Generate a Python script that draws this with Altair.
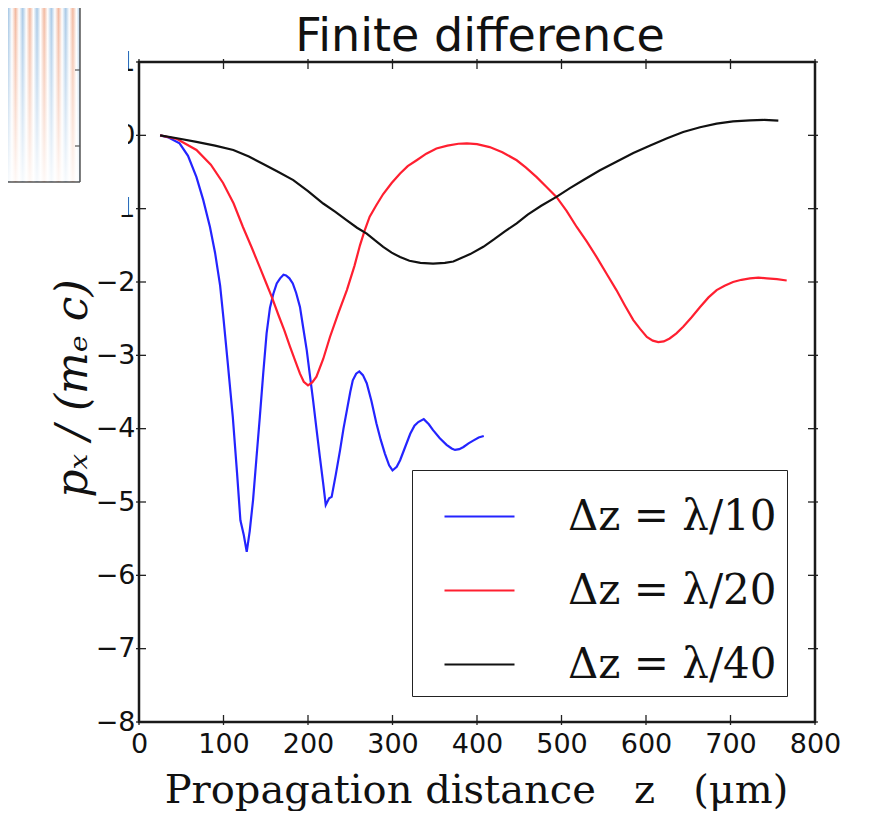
import altair as alt
import pandas as pd

# ---------------- data ----------------
blue_z = [25, 35, 48, 58, 68, 76, 84, 90, 96, 100, 105, 111, 116, 120, 124, 127.5, 131, 135, 139, 143,
          147, 151, 155, 159, 163, 167, 171, 174, 178, 182, 186, 190.5, 194, 198.5, 202, 206, 210, 214,
          218, 221, 225, 228, 233, 238, 242, 246, 250, 253, 257, 260.7, 265, 269.5, 275, 281, 286, 291,
          296, 300, 305, 309, 315, 321, 326, 330.5, 337, 343, 348, 356, 364, 370, 374, 379, 384, 390,
          396, 402, 408]
blue_v = [0, -0.03, -0.11, -0.28, -0.57, -0.88, -1.25, -1.6, -2.05, -2.5, -3.1, -3.84, -4.6, -5.25,
          -5.45, -5.68, -5.4, -4.97, -4.4, -3.84, -3.25, -2.70, -2.35, -2.16, -2.02, -1.95, -1.9, -1.91,
          -1.95, -2.02, -2.15, -2.34, -2.6, -2.93, -3.25, -3.61, -4.0, -4.38, -4.75, -5.04, -4.95, -4.93,
          -4.62, -4.29, -4.0, -3.75, -3.5, -3.34, -3.25, -3.22, -3.27, -3.38, -3.62, -3.93, -4.15, -4.34,
          -4.5, -4.57, -4.52, -4.43, -4.25, -4.07, -3.96, -3.91, -3.87, -3.94, -4.02, -4.13, -4.22, -4.27,
          -4.29, -4.28, -4.25, -4.2, -4.16, -4.12, -4.10]

red_z = [25, 45, 68, 85, 99.5, 112, 123, 133, 143, 150, 157, 165, 172, 178.7, 185, 190.5, 195, 200, 205,
         210, 218, 226, 236, 246, 255, 261.5, 267, 273, 281, 289, 299, 309, 318, 328.6, 340, 352, 365,
         378, 388, 400, 415, 430, 447, 458, 470.6, 482, 494, 506, 518, 530, 541.6, 553, 565, 575, 585,
         593, 601, 608, 614.5, 621, 628, 636, 644, 654, 664, 674, 683.6, 693, 703, 713, 723, 733, 743,
         755, 766.5]
red_v = [0, -0.05, -0.20, -0.4, -0.65, -0.93, -1.25, -1.52, -1.80, -2.0, -2.20, -2.45, -2.66, -2.88,
         -3.08, -3.25, -3.36, -3.41, -3.37, -3.29, -3.05, -2.75, -2.42, -2.11, -1.78, -1.50, -1.3, -1.11,
         -0.95, -0.80, -0.65, -0.52, -0.42, -0.34, -0.25, -0.18, -0.14, -0.115, -0.11, -0.12, -0.16,
         -0.23, -0.34, -0.44, -0.57, -0.7, -0.84, -1.03, -1.25, -1.45, -1.66, -1.88, -2.11, -2.32, -2.52,
         -2.64, -2.75, -2.80, -2.82, -2.81, -2.77, -2.70, -2.61, -2.48, -2.34, -2.21, -2.11, -2.05, -2.00,
         -1.97, -1.95, -1.94, -1.95, -1.96, -1.98]

black_z = [25, 45, 68, 90, 111.6, 130, 147, 165, 182.6, 200, 218, 232, 246, 258, 269.5, 279, 289, 299,
           309, 320, 333, 348, 362, 372, 380, 392, 407.5, 420, 433, 447, 460, 476, 494, 510, 526, 545,
           565, 585, 605, 625, 644, 664, 683.6, 703, 723, 740, 756.6]
black_v = [0, -0.04, -0.09, -0.14, -0.20, -0.29, -0.39, -0.5, -0.61, -0.76, -0.93, -1.04, -1.16, -1.26,
           -1.34, -1.43, -1.52, -1.6, -1.66, -1.71, -1.74, -1.75, -1.74, -1.72, -1.68, -1.62, -1.52,
           -1.42, -1.31, -1.20, -1.08, -0.96, -0.84, -0.72, -0.61, -0.48, -0.36, -0.24, -0.14, -0.04,
           0.045, 0.11, 0.16, 0.19, 0.205, 0.21, 0.20]

series_labels = ["Δz = λ/10\u2009", "Δz = λ/20\u2009", "Δz = λ/40\u2009"]
series_colors = ["#2424ff", "#ff1f30", "#111111"]

x_ticks = [0, 100, 200, 300, 400, 500, 600, 700, 800]
y_ticks = [-8, -7, -6, -5, -4, -3, -2, -1, 0, 1]

title_text = "Finite difference"
x_title = "Propagation distance\u00a0\u00a0 z \u00a0\u00a0(μm)"
y_title = "pₓ / (mₑ c)"

# ---------------- tables ----------------
rows = []
for name, zs, vs in zip(series_labels, [blue_z, red_z, black_z], [blue_v, red_v, black_v]):
    for z, v in zip(zs, vs):
        rows.append({"z": z, "v": v, "series": name})
df = pd.DataFrame(rows)
xt = pd.DataFrame({"z": x_ticks})
yt = pd.DataFrame({"v": y_ticks})
one = pd.DataFrame({"a": [0]})

W, H = 676, 660
xscale = alt.Scale(domain=[0, 800], nice=False, zero=False)
yscale = alt.Scale(domain=[-8, 1], nice=False, zero=False)

tick_font = "DejaVu Sans"
serif = "DejaVu Serif"

lines = alt.Chart(df).mark_line(strokeWidth=2.2).encode(
    x=alt.X("z:Q", scale=xscale,
            axis=alt.Axis(values=x_ticks, format="d", title=x_title, ticks=False, domain=False,
                          grid=False, labelFlush=False,
                          labelFont=tick_font, labelFontSize=27, labelPadding=9, labelColor="#111",
                          titleFont=serif, titleFontSize=40, titleFontWeight="normal", titleColor="#111",
                          titleX=337, titleY=68, titleBaseline="middle", titleAlign="center")),
    y=alt.Y("v:Q", scale=yscale,
            axis=alt.Axis(values=y_ticks, format="d", title=y_title, ticks=False, domain=False,
                          grid=False, labelFlush=False,
                          labelFont=tick_font, labelFontSize=27, labelPadding=4, labelColor="#111",
                          titleFont=serif, titleFontSize=44, titleFontWeight="normal",
                          titleFontStyle="italic", titleColor="#111",
                          titleX=-66, titleY=326, titleBaseline="middle", titleAlign="center")),
    color=alt.Color("series:N",
                    scale=alt.Scale(domain=series_labels, range=series_colors),
                    legend=alt.Legend(title=None, orient="none", legendX=273, legendY=408,
                                      strokeColor="#222", fillColor="white", padding=10,
                                      symbolType="stroke", symbolSize=4900, symbolStrokeWidth=2.2,
                                      symbolOffset=21, labelOffset=52, rowPadding=16,
                                      labelFont=serif, labelFontSize=42, labelColor="#111",
                                      labelLimit=400)),
)

tick_style = dict(color="#222", strokeWidth=1.3)
left_ticks = alt.Chart(yt).mark_rule(**tick_style).encode(
    y=alt.Y("v:Q", scale=yscale), x=alt.value(-3), x2=alt.value(7))
right_ticks = alt.Chart(yt).mark_rule(**tick_style).encode(
    y=alt.Y("v:Q", scale=yscale), x=alt.value(W - 7), x2=alt.value(W + 3))
bottom_ticks = alt.Chart(xt).mark_rule(**tick_style).encode(
    x=alt.X("z:Q", scale=xscale), y=alt.value(H - 7), y2=alt.value(H + 3))
top_ticks = alt.Chart(xt).mark_rule(**tick_style).encode(
    x=alt.X("z:Q", scale=xscale), y=alt.value(-3), y2=alt.value(7))

frame = alt.Chart(one).mark_rect(fillOpacity=0, stroke="#1a1a1a", strokeWidth=2.5).encode(
    x=alt.value(0), x2=alt.value(W), y=alt.value(0), y2=alt.value(H))

title = alt.Chart(one).mark_text(text=title_text, font="DejaVu Sans", fontSize=46, color="#111",
                                 align="center", baseline="alphabetic").encode(
    x=alt.value(341), y=alt.value(-11))

# overlapping fragment of a neighbouring figure (top-left corner of the picture)
cover = alt.Chart(one).mark_rect(fill="white").encode(
    x=alt.value(-131), x2=alt.value(-11), y=alt.value(-54), y2=alt.value(153))
stripe_stops = []
cols = ["#a9c9e6", "#ffffff", "#f2b9a0", "#ffffff"]
n = 24
for i in range(n + 1):
    stripe_stops.append(alt.GradientStop(offset=i / n, color=cols[i % 4]))
inset = alt.Chart(one).mark_rect(
    fill=alt.Gradient(gradient="linear", x1=0, y1=0, x2=1, y2=0, stops=stripe_stops)).encode(
    x=alt.value(-145), x2=alt.value(-59), y=alt.value(-54), y2=alt.value(120))
fade = alt.Chart(one).mark_rect(
    fill=alt.Gradient(gradient="linear", x1=0, y1=0, x2=0, y2=1,
                      stops=[alt.GradientStop(offset=0, color="rgba(255,255,255,0)"),
                             alt.GradientStop(offset=0.4, color="rgba(255,255,255,0.35)"),
                             alt.GradientStop(offset=1, color="rgba(255,255,255,0.9)")])).encode(
    x=alt.value(-145), x2=alt.value(-60), y=alt.value(-54), y2=alt.value(119))
inset_border_r = alt.Chart(one).mark_rule(color="#555", strokeWidth=1.5).encode(
    x=alt.value(-59), y=alt.value(-54), y2=alt.value(120))
inset_border_b = alt.Chart(one).mark_rule(color="#555", strokeWidth=1.5).encode(
    x=alt.value(-131), x2=alt.value(-59), y=alt.value(120))
inset_ticks = alt.Chart(pd.DataFrame({"p": [8, 84]})).mark_rule(color="#555", strokeWidth=1.2).encode(
    y=alt.Y("p:Q", scale=None), x=alt.value(-64), x2=alt.value(-59))

chart = alt.layer(lines, left_ticks, right_ticks, bottom_ticks, top_ticks, frame, title,
                  cover, inset, fade, inset_border_r, inset_border_b, inset_ticks).properties(
    width=W, height=H,
    autosize=alt.AutoSizeParams(type="none"),
    padding={"left": 131, "top": 54, "right": 34, "bottom": 89},
).configure_view(stroke=None).configure_legend(strokeWidth=2).configure(background="white")

chart.save("out.html", embed_options={"renderer": "svg", "actions": False})
